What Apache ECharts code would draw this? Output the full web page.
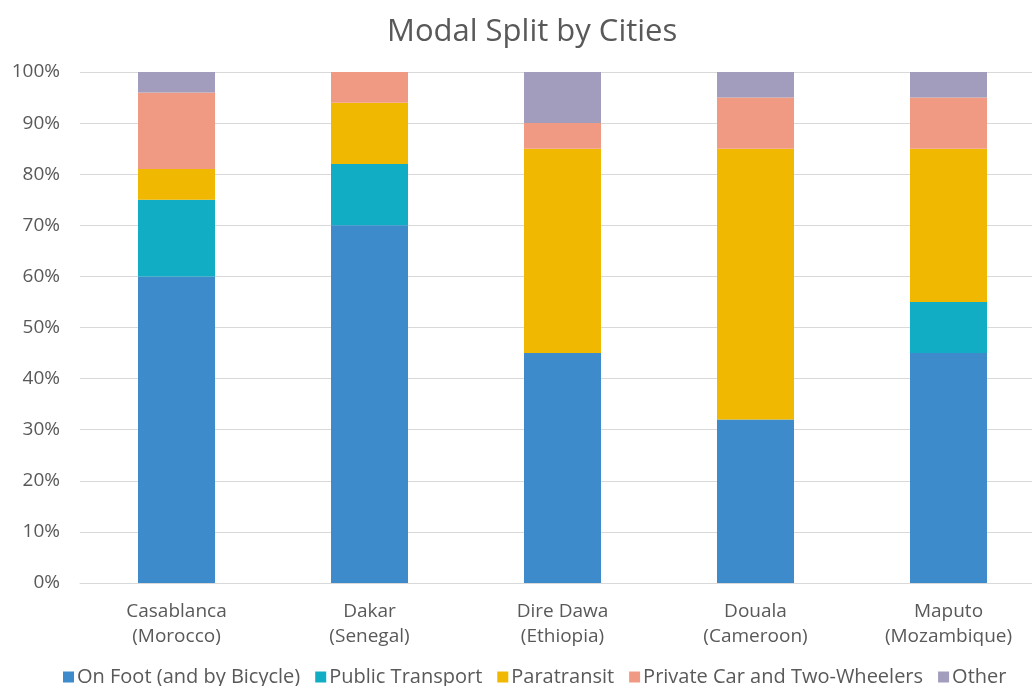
<!DOCTYPE html>
<html>
<head>
<meta charset="utf-8">
<script src="https://cdn.jsdelivr.net/npm/echarts@6/dist/echarts.min.js"></script>
<style>
  html, body { margin: 0; padding: 0; background: #fff; }
  #chart { width: 1032px; height: 686px; }
</style>
</head>
<body>
<div id="chart"></div>
<script>
// Cities (with country) on the category axis
const cities = ['Casablanca\n(Morocco)', 'Dakar\n(Senegal)', 'Dire Dawa\n(Ethiopia)', 'Douala\n(Cameroon)', 'Maputo\n(Mozambique)'];

// Share of trips per mode, in percent
const onFoot = [60, 70, 45, 32, 45];
const publicTransport = [15, 12, 0, 0, 10];
const paratransit = [6, 12, 40, 53, 30];
const privateCar = [15, 6, 5, 10, 10];
const other = [4, 0, 10, 5, 5];

const seriesNames = ['On Foot (and by Bicycle)', 'Public Transport', 'Paratransit', 'Private Car and Two-Wheelers', 'Other'];
const seriesData = [onFoot, publicTransport, paratransit, privateCar, other];
const colors = ['#3D8BCB', '#10ADC5', '#F0B800', '#F09A84', '#A29DBD'];

const font = '"Open Sans", "Noto Sans", sans-serif';

const chart = echarts.init(document.getElementById('chart'));
chart.setOption({
  animation: false,
  color: colors,
  title: {
    text: 'Modal Split by Cities',
    left: 382,
    top: 12,
    textStyle: { fontFamily: font, fontSize: 31, fontWeight: 'normal', color: '#595959' }
  },
  legend: {
    bottom: -6,
    left: 58,
    itemWidth: 11,
    itemHeight: 11,
    itemGap: 15,
    icon: 'rect',
    textStyle: { fontFamily: font, fontSize: 20, color: '#595959', padding: [0, 0, 0, -2] }
  },
  // plot runs past the right edge of the canvas
  grid: { left: 80, width: 965, top: 72, bottom: 103, outerBoundsMode: 'none' },
  xAxis: {
    type: 'category',
    data: cities,
    axisTick: { show: false },
    axisLine: { lineStyle: { color: '#D9D9D9' } },
    axisLabel: { fontFamily: font, fontSize: 19, color: '#595959', margin: 16, lineHeight: 25 }
  },
  yAxis: {
    type: 'value',
    min: 0,
    max: 100,
    interval: 10,
    axisLabel: { fontFamily: font, fontSize: 19, color: '#595959', formatter: '{value}%', margin: 20 },
    splitLine: { lineStyle: { color: '#D9D9D9' } },
    axisLine: { show: false },
    axisTick: { show: false }
  },
  series: seriesNames.map((name, i) => ({
    name: name,
    type: 'bar',
    stack: 'total',
    barWidth: 77,
    data: seriesData[i]
  }))
});
</script>
</body>
</html>
